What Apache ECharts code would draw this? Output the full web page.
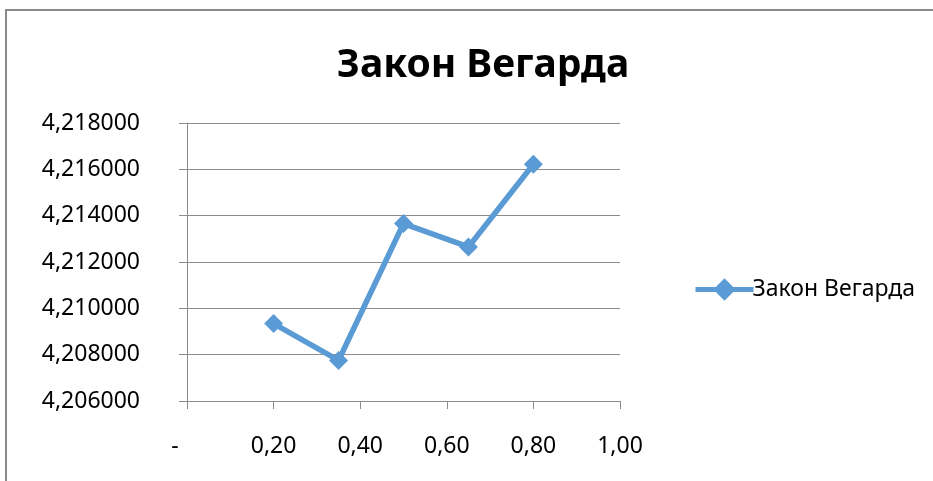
<!DOCTYPE html>
<html>
<head>
<meta charset="utf-8">
<script src="https://cdn.jsdelivr.net/npm/echarts@6/dist/echarts.min.js"></script>
<style>
  html, body { margin: 0; padding: 0; background: #fff; }
  #chart { width: 933px; height: 481px; }
</style>
</head>
<body>
<div id="chart"></div>
<script>
// Vegard's law: lattice parameter vs. composition
const seriesName = 'Закон Вегарда';
const xValues = [0.20, 0.35, 0.50, 0.65, 0.80];
const yValues = [4.20934, 4.20775, 4.21366, 4.21265, 4.21622];

const FONT = '"Noto Sans", "Open Sans", sans-serif';
const LINE_COLOR = '#5B9BD5';
const GRID_COLOR = '#8c8c8c';

// Excel-like number formatting with comma decimal separator; zero shown as a dash
const fmtX = v => (Math.abs(v) < 1e-9 ? '-    ' : v.toFixed(2).replace('.', ','));
const fmtY = v => v.toFixed(6).replace('.', ',');

const chart = echarts.init(document.getElementById('chart'), null, { renderer: 'canvas' });

chart.setOption({
  backgroundColor: '#ffffff',
  animation: false,
  graphic: [{
    type: 'rect',
    shape: { x: 6, y: 10, width: 1200, height: 1000 },
    style: { fill: 'none', stroke: '#8a8a8a', lineWidth: 2 },
    silent: true
  }],
  title: {
    text: seriesName,
    left: 478,
    textAlign: 'center',
    top: 41,
    textStyle: { fontFamily: FONT, fontWeight: 'bold', fontSize: 39, color: '#000' }
  },
  legend: {
    left: 688,
    top: 273,
    itemWidth: 58,
    itemHeight: 28,
    itemGap: 0,
    lineStyle: { width: 5 },
    textStyle: { fontFamily: FONT, fontSize: 23, color: '#000', padding: [0, 0, 0, -6] },
    data: [seriesName]
  },
  grid: {
    left: 187,
    top: 123,
    width: 433,
    height: 278,
    containLabel: false
  },
  xAxis: {
    type: 'value',
    min: 0,
    max: 1,
    interval: 0.2,
    axisLine: { show: true, lineStyle: { color: GRID_COLOR, width: 1 } },
    axisTick: { show: true, length: 8, lineStyle: { color: GRID_COLOR } },
    splitLine: { show: false },
    axisLabel: {
      margin: 34,
      fontFamily: FONT,
      fontSize: 23,
      color: '#000',
      formatter: fmtX
    }
  },
  yAxis: {
    type: 'value',
    min: 4.206,
    max: 4.218,
    interval: 0.002,
    axisLine: { show: true, lineStyle: { color: GRID_COLOR, width: 1 } },
    axisTick: { show: true, length: 8, lineStyle: { color: GRID_COLOR } },
    splitLine: { show: true, lineStyle: { color: GRID_COLOR, width: 1 } },
    axisLabel: {
      margin: 47,
      fontFamily: FONT,
      fontSize: 23,
      color: '#000',
      formatter: fmtY
    }
  },
  series: [{
    name: seriesName,
    type: 'line',
    data: xValues.map((x, i) => [x, yValues[i]]),
    symbol: 'diamond',
    symbolSize: 19,
    showAllSymbol: true,
    lineStyle: { color: LINE_COLOR, width: 5.5 },
    itemStyle: { color: LINE_COLOR },
    emphasis: { disabled: true }
  }]
});
</script>
</body>
</html>
